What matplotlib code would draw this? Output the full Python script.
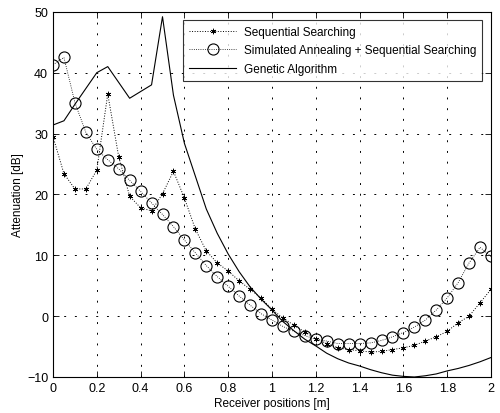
import numpy as np
import matplotlib
matplotlib.use("Agg")
import matplotlib.pyplot as plt

plt.rcParams['font.family'] = ['Liberation Sans', 'DejaVu Sans']

x_pos = [round(0.05 * i, 2) for i in range(41)]

seq_search = [29.5, 23.4, 20.9, 20.9, 24.0, 36.5, 26.2, 19.7, 17.8, 17.3,
              20.1, 23.8, 19.4, 14.3, 10.7, 8.75, 7.4, 5.8, 4.4, 3.0,
              1.1, -0.3, -1.5, -2.6, -3.7, -4.5, -5.2, -5.5, -5.7, -5.9,
              -5.8, -5.5, -5.2, -4.8, -4.1, -3.4, -2.5, -1.1, 0.0, 2.2, 4.4]

sa_seq = [41.3, 42.5, 35.1, 30.2, 27.4, 25.7, 24.2, 22.3, 20.5, 18.6,
          16.7, 14.7, 12.5, 10.4, 8.3, 6.5, 4.9, 3.3, 1.8, 0.4,
          -0.65, -1.7, -2.5, -3.2, -3.8, -4.1, -4.5, -4.5, -4.5, -4.4,
          -4.0, -3.4, -2.7, -1.8, -0.65, 1.0, 3.0, 5.5, 8.75, 11.3, 9.8]

genetic = [31.4, 32.1, 34.8, 37.4, 40.0, 41.0, 38.4, 35.8, 36.9, 38.0,
           49.2, 36.3, 28.4, 23.0, 17.6, 13.6, 10.2, 7.3, 4.8, 2.8,
           1.0, -0.9, -2.4, -3.8, -4.9, -6.1, -7.0, -7.7, -8.2, -8.8,
           -9.3, -9.7, -9.9, -10.0, -9.8, -9.5, -9.0, -8.6, -8.1, -7.5, -6.8]

labels = ['Sequential Searching',
          'Simulated Annealing + Sequential Searching',
          'Genetic Algorithm']

fig = plt.figure(figsize=(5.0, 4.14), dpi=100)
ax = fig.add_axes([0.106, 0.087, 0.876, 0.882])

ax.plot(x_pos, seq_search, linestyle=':', color='black', linewidth=0.7,
        marker=(6, 2, 0), markersize=4, markeredgewidth=0.5, label=labels[0])
ax.plot(x_pos, sa_seq, linestyle=':', color='black', linewidth=0.6,
        marker='o', markersize=8, markerfacecolor='none', markeredgewidth=0.8,
        label=labels[1])
ax.plot(x_pos, genetic, linestyle='-', color='black', linewidth=0.8,
        label=labels[2])

ax.set_xlim(0, 2)
ax.set_ylim(-10, 50)
ax.set_xticks(np.arange(0, 2.01, 0.2))
ax.set_xticklabels(['0', '0.2', '0.4', '0.6', '0.8', '1', '1.2', '1.4', '1.6', '1.8', '2'])
ax.set_yticks(np.arange(-10, 51, 10))
ax.tick_params(direction='in', top=True, right=True, labelsize=9, length=4, width=0.6)
ax.grid(True, color='black', linestyle=(0, (2, 9)), linewidth=0.7)
for s in ax.spines.values():
    s.set_linewidth(0.8)

ax.set_xlabel('Receiver positions [m]', fontsize=8.5, labelpad=2)
ax.set_ylabel('Attenuation [dB]', fontsize=8.5, labelpad=2)

leg = ax.legend(loc='upper right', bbox_to_anchor=(0.979, 0.978), fontsize=8.5,
                frameon=True, fancybox=False, edgecolor='black',
                borderpad=0.5, labelspacing=0.55, handlelength=4.0,
                handletextpad=0.6, borderaxespad=0.0)
leg.get_frame().set_linewidth(0.8)

fig.savefig('out.png', dpi=100)
